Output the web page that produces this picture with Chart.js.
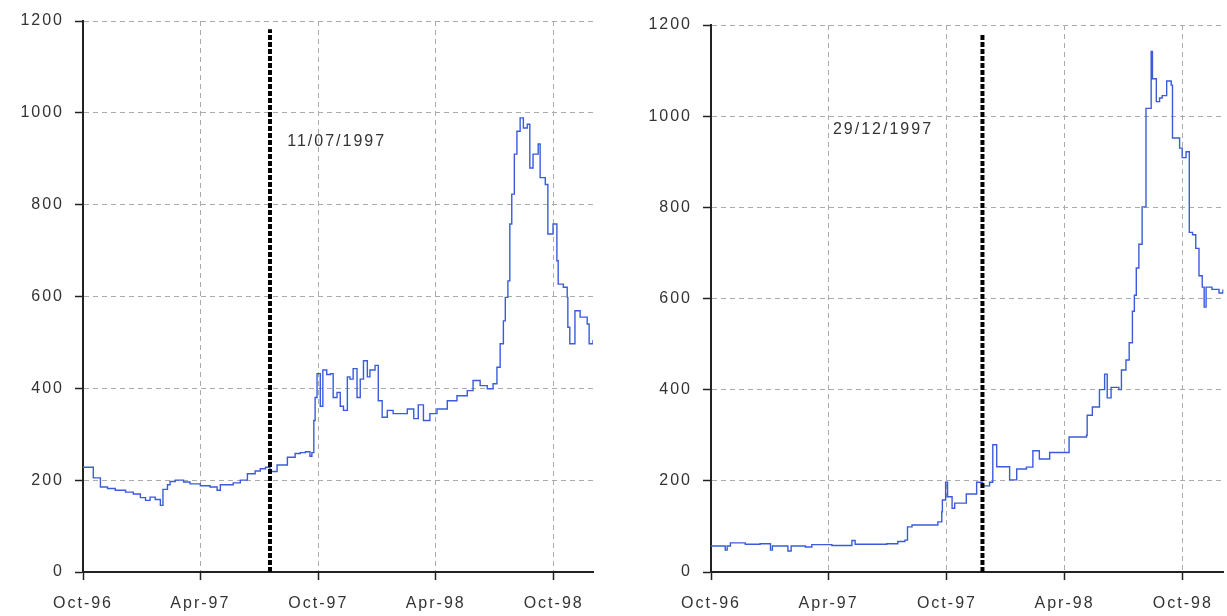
<!DOCTYPE html>
<html><head><meta charset="utf-8">
<script src="https://cdn.jsdelivr.net/npm/chart.js@4.4.1/dist/chart.umd.min.js"></script>
<style>
html,body{margin:0;padding:0;background:#fff;overflow:hidden}
#wrap{position:relative;width:1227px;height:616px;background:#fff}
canvas{position:absolute;top:0}
</style></head><body>
<div id="wrap">
<canvas id="leftChart" width="620" height="616" style="left:0px"></canvas>
<canvas id="rightChart" width="607" height="616" style="left:620px"></canvas>
</div>
<script>
// x values are days since 1 Oct 1996
const tickDays = [0, 182, 365, 547, 730];
const tickLabels = ['Oct-96', 'Apr-97', 'Oct-97', 'Apr-98', 'Oct-98'];

const leftDays = [0,11,16,27,38,50,66,78,89,97,104,112,120,124,131,135,143,156,166,182,197,208,213,233,244,255,267,275,283,290,301,317,329,337,345,352,355,358,360,363,368,372,378,384,388,394,399,404,410,414,419,425,430,435,441,445,453,458,464,472,481,492,503,513,520,528,538,549,565,580,596,605,616,627,636,642,647,652,655,659,662,665,669,673,678,683,689,693,698,706,709,717,721,729,735,737,745,751,752,755,760,763,771,779,782,785,791];
const leftValues = [228,228,205,185,182,178,174,170,162,156,163,158,145,180,190,197,200,196,192,188,185,178,190,194,200,214,220,225,228,219,233,250,258,260,262,252,260,330,380,432,361,440,430,432,380,391,361,352,425,420,443,380,420,460,425,440,450,373,337,352,345,345,355,334,364,330,345,355,373,384,395,417,406,399,410,446,497,547,598,634,758,823,910,960,989,967,975,880,910,932,859,844,736,758,678,627,620,598,533,497,497,569,555,555,540,497,505];

const rightDays = [0,9,22,25,30,53,76,92,95,119,124,146,156,187,218,223,272,289,300,304,311,351,357,358,363,366,373,377,395,411,420,431,436,442,451,462,473,488,498,508,524,547,554,581,582,590,601,609,613,619,631,635,642,647,652,655,658,662,667,672,673,678,681,683,689,694,698,705,712,714,725,729,735,740,745,750,755,760,763,766,775,786,792];
const rightValues = [57,57,48,57,64,61,62,48,57,46,57,55,60,58,69,61,62,67,70,99,103,110,132,158,197,165,140,151,171,197,189,197,279,231,231,202,226,230,266,248,262,262,296,300,344,362,400,434,382,405,400,443,465,503,572,607,667,719,801,801,1017,1017,1142,1082,1032,1040,1045,1077,1068,952,930,909,922,745,740,710,650,625,581,625,620,612,620];

const eventDays = [290, 420];
const eventTop = 1182;
const eventLabels = ['11/07/1997', '29/12/1997'];
const eventLabelDays = [316.7, 188.7];
const eventLabelValues = [937, 970];

const FONT = '"Liberation Sans", Arial, sans-serif';
const LS = '2px';
const TEXT = '#333333';
const GRID = '#ababab';
const AXIS = '#222222';

const spacingPlugin = {
  id: 'spacing',
  beforeInit(chart) { chart.ctx.letterSpacing = LS; },
  beforeLayout(chart) { chart.ctx.letterSpacing = LS; },
  beforeDraw(chart) { chart.ctx.letterSpacing = LS; }
};

const eventLabelPlugin = {
  id: 'eventLabel',
  afterDatasetsDraw(chart, args, opts) {
    const {ctx, scales: {x, y}} = chart;
    ctx.save();
    ctx.letterSpacing = LS;
    ctx.font = '16px ' + FONT;
    ctx.fillStyle = TEXT;
    ctx.textBaseline = 'middle';
    ctx.textAlign = 'left';
    ctx.fillText(opts.text, x.getPixelForValue(opts.day), y.getPixelForValue(opts.value));
    ctx.restore();
  }
};

function makeChart(id, days, values, idx, cfg) {
  const pts = days.map((d, i) => ({x: d, y: values[i]}));
  return new Chart(document.getElementById(id), {
    type: 'line',
    data: {
      datasets: [
        {data: [{x: eventDays[idx], y: 0}, {x: eventDays[idx], y: eventTop}],
         borderColor: '#000', borderWidth: 4, borderDash: [5, 2], pointRadius: 0, fill: false},
        {data: pts, borderColor: '#3b5bdb', borderWidth: 1.4, pointRadius: 0, stepped: true, fill: false}
      ]
    },
    options: {
      responsive: false, animation: false, events: [],
      layout: {padding: {top: cfg.padTop, right: cfg.padRight, left: 0, bottom: 0}},
      plugins: {
        legend: {display: false}, tooltip: {enabled: false},
        eventLabel: {text: eventLabels[idx], day: eventLabelDays[idx], value: eventLabelValues[idx]}
      },
      scales: {
        x: {
          type: 'linear', min: 0, max: cfg.xMax,
          afterBuildTicks: s => { s.ticks = tickDays.map(v => ({value: v})); },
          afterFit: s => { s.height = cfg.xHeight; },
          ticks: {callback: (v, i) => tickLabels[i], autoSkip: false, maxRotation: 0, minRotation: 0,
                  color: TEXT, font: {family: FONT, size: 16}, padding: 14},
          grid: {color: c => (c.tick && c.tick.value === 0) ? 'rgba(0,0,0,0)' : GRID,
                 lineWidth: 1, tickColor: AXIS, tickLength: 8, tickWidth: 1.5},
          border: {display: true, color: AXIS, width: 2, dash: [5, 4]}
        },
        y: {
          min: 0, max: 1200,
          afterFit: s => { s.width = cfg.yWidth; },
          ticks: {stepSize: 200, callback: v => String(v), color: TEXT, font: {family: FONT, size: 16}, padding: 11},
          grid: {color: c => (c.tick && c.tick.value === 0) ? 'rgba(0,0,0,0)' : GRID,
                 lineWidth: 1, tickColor: AXIS, tickLength: 8, tickWidth: 1.5},
          border: {display: true, color: AXIS, width: 2, dash: [5, 4]}
        }
      }
    },
    plugins: [spacingPlugin, eventLabelPlugin]
  });
}

makeChart('leftChart', leftDays, leftValues, 0, {padTop: 21, padRight: 27, xMax: 791, xHeight: 44, yWidth: 83});
makeChart('rightChart', rightDays, rightValues, 1, {padTop: 25, padRight: 2, xMax: 793, xHeight: 44, yWidth: 91});
</script>
</body></html>
